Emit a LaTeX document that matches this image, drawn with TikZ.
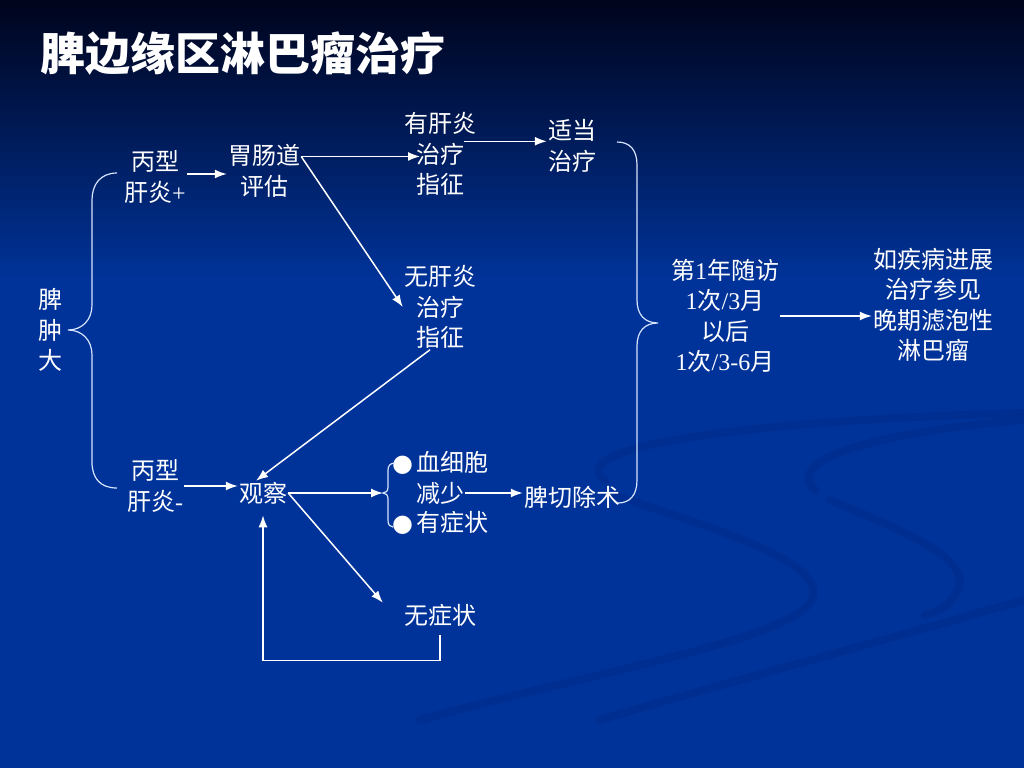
\documentclass[tikz,border=0pt]{standalone}
\usepackage{fontspec}
\setmainfont{Noto Sans CJK SC}
\newfontfamily\lat{Liberation Serif}
\newfontfamily\dotfont{DejaVu Sans}
\usepackage{xcolor}
\usepackage{tikz}
\usetikzlibrary{arrows.meta}
\definecolor{bgblue}{RGB}{0,51,153}
\definecolor{bgtop}{RGB}{0,4,28}
\definecolor{bgmid}{RGB}{6,34,105}
\definecolor{swoosh}{RGB}{0,46,144}
\definecolor{bracecol}{RGB}{215,228,255}
\tikzstyle{txt} = [text=white, align=center, inner sep=1pt,
font=\fontsize{24}{30.5}\selectfont]
\tikzstyle{arrowline} = [draw=white, line width=1.5pt, -{Latex[length=12pt,width=9pt]}]
\tikzstyle{bracket} = [draw=bracecol, line width=1.2pt]
\tikzstyle{swirl} = [draw=swoosh, line width=8pt, line cap=round]

\begin{document}
\begin{tikzpicture}[x=1pt, y=-1pt]
	\useasboundingbox (0,0) rectangle (1024,768);
	\fill [bgblue] (0,0) rectangle (1024,768);
	\shade [top color=bgtop, middle color=bgmid, bottom color=bgblue] (0,0) rectangle (1024,280);
	
	
	\path [swirl] (1024,413) .. controls (760,420) and (560,445) .. (605,480);
	\path [swirl] (615,495) .. controls (700,525) and (830,560) .. (812,600) .. controls (790,640) and (600,670) .. (420,720);
	\path [swirl] (1024,420) .. controls (900,430) and (780,455) .. (815,490);
	\path [swirl] (830,500) .. controls (900,530) and (980,560) .. (955,595) .. controls (945,610) and (935,612) .. (925,615);
	\path [swirl] (1024,600) .. controls (850,650) and (700,690) .. (600,720);
	
	
	\node [anchor=west, text=white, inner sep=0pt, font=\bfseries\fontsize{45}{50}\selectfont] (title) at (40,54) {脾边缘区淋巴瘤治疗};
	
	\node [txt] (spleen) at (50,330) {脾\\肿\\大};
	\node [txt] (hcvpos) at (155,177) {丙型\\肝炎{\lat +}};
	\node [txt] (gut) at (264,171) {胃肠道\\评估};
	\node [txt] (indic) at (440,154) {有肝炎\\治疗\\指征};
	\node [txt] (proper) at (572,146) {适当\\治疗};
	\node [txt] (noindic) at (440,307) {无肝炎\\治疗\\指征};
	\node [txt] (hcvneg) at (155,486) {丙型\\肝炎{\lat -}};
	\node [txt] (watch) at (263,493) {观察};
	\node [txt, anchor=west] (cyto) at (391,463) {{\dotfont ●}\hspace{3pt}血细胞};
	\node [txt] (cytob) at (440,493) {减少};
	\node [txt, anchor=west] (sympt) at (391,523) {{\dotfont ●}\hspace{3pt}有症状};
	\node [txt] (splen) at (572,497) {脾切除术};
	\node [txt] (nosympt) at (440,615) {无症状};
	\node [txt] (follow) at (725,316) {第{\lat 1}年随访\\{\lat 1}次{\lat /3}月\\以后\\{\lat 1}次{\lat /3-6}月};
	\node [txt] (progress) at (933,305) {如疾病进展\\治疗参见\\晚期滤泡性\\淋巴瘤};
	
	
	\coordinate (gutout) at ([yshift=-13pt]gut.north east);
	\coordinate (indicin) at ([xshift=-20pt]indic.center);
	\coordinate (indicout) at ([xshift=-13pt,yshift=-30pt]indic.north east);
	\coordinate (ltip) at (68,330);
	\coordinate (stip) at (383,493);
	\coordinate (rtip) at (658,323);
	
	
	\path [bracket] (117,173) .. controls (100,173) and (92,185) .. (92,200) -- (92,305) .. controls (92,320) and (82,330) .. (ltip)
	.. controls (82,330) and (92,340) .. (92,355) -- (92,462) .. controls (92,478) and (100,488) .. (117,488);
	\path [bracket] (395,463) .. controls (390,463) and (388,466) .. (388,470) -- (388,487) .. controls (388,491) and (386,493) .. (stip)
	.. controls (386,493) and (388,495) .. (388,499) -- (388,520) .. controls (388,525) and (390,527) .. (393,527);
	\path [bracket] (617,142) .. controls (630,142) and (637,150) .. (637,165) -- (637,300) .. controls (637,315) and (645,323) .. (rtip)
	.. controls (645,323) and (637,331) .. (637,346) -- (637,480) .. controls (637,495) and (630,503) .. (618,503);
	
	
	\path [arrowline] ([yshift=3pt]hcvpos.east) -- ([yshift=3pt]hcvpos.east -| gut.west);
	\path [arrowline] (gutout) -- (gutout -| indicin);
	\path [arrowline] (gutout) -- (noindic.west);
	\path [arrowline] (indicout) -- (indicout -| proper.west);
	\path [arrowline] ([xshift=-10pt]noindic.south) -- ([xshift=-7pt]watch.north);
	\path [arrowline] (hcvneg.east) -- (hcvneg.east -| watch.west);
	\path [arrowline] (watch.east) -- (stip);
	\path [arrowline] (watch.east) -- ([xshift=-20pt]nosympt.north west);
	\path [arrowline] ([yshift=-8pt]nosympt.south) -- ++(0,25) -| ([yshift=-10pt]watch.south);
	\path [arrowline] (cytob.east) -- (cytob.east -| splen.west);
	\path [arrowline] (follow.east) -- (follow.east -| progress.west);
\end{tikzpicture}
\end{document}
